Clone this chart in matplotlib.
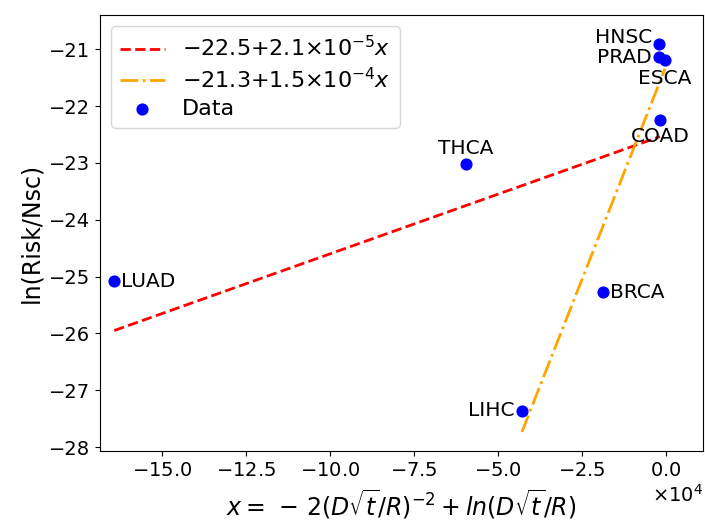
import numpy as np
import matplotlib
matplotlib.use('Agg')
import matplotlib.pyplot as plt
from matplotlib.ticker import MultipleLocator, ScalarFormatter

# Data (x in units, axis shows x10^4)
labels = ['HNSC', 'PRAD', 'ESCA', 'COAD', 'THCA', 'LUAD', 'BRCA', 'LIHC']
x_vals = [-0.21e4, -0.21e4, -0.03e4, -0.18e4, -5.95e4, -16.43e4, -1.88e4, -4.29e4]
y_vals = [-20.91, -21.14, -21.19, -22.25, -23.02, -25.08, -25.28, -27.36]

# Fitted lines: intercept, slope, x span
red_fit = (-22.5, 2.1e-5)
red_span = [-16.43e4, -0.18e4]
orange_fit = (-21.3, 1.5e-4)
orange_span = [-4.29e4, -0.03e4]

# label offsets (points) and alignment
label_pos = {
    'HNSC': ((-5, 5), 'right', 'center'),
    'PRAD': ((-5, 0), 'right', 'center'),
    'ESCA': ((-19.5, -13), 'left', 'center'),
    'COAD': ((-21, -11.5), 'left', 'center'),
    'THCA': ((0, 11.5), 'center', 'center'),
    'LUAD': ((5, 0), 'left', 'center'),
    'BRCA': ((5, 0), 'left', 'center'),
    'LIHC': ((-5, 0), 'right', 'center'),
}

fig = plt.figure(figsize=(7.05, 5.22), dpi=100)
ax = fig.add_axes([0.142, 0.136, 0.855, 0.835])

xr = np.linspace(red_span[0], red_span[1], 50)
ax.plot(xr, red_fit[0] + red_fit[1] * xr, 'r--', lw=2,
        label=r'$-22.5{+}2.1{\times}10^{-5}x$')
xo = np.linspace(orange_span[0], orange_span[1], 50)
ax.plot(xo, orange_fit[0] + orange_fit[1] * xo, color='orange', ls='-.', lw=2,
        label=r'$-21.3{+}1.5{\times}10^{-4}x$')
ax.scatter(x_vals, y_vals, color='blue', s=60, zorder=3, label='Data')

for lab, xv, yv in zip(labels, x_vals, y_vals):
    off, ha, va = label_pos[lab]
    ax.annotate(lab, (xv, yv), xytext=off, textcoords='offset points',
                ha=ha, va=va, fontsize=14.5)

ax.set_xlim(-16.85e4, 1.1e4)
ax.set_ylim(-28.07, -20.40)
ax.xaxis.set_major_locator(MultipleLocator(2.5e4))
fmt = ScalarFormatter(useMathText=True)
fmt.set_powerlimits((4, 4))
ax.xaxis.set_major_formatter(fmt)
ax.tick_params(labelsize=14)
ax.xaxis.get_offset_text().set_fontsize(14)
ax.set_xlabel(r'$x =\,-\,2(D\sqrt{t}/R)^{-2} + ln(D\sqrt{t}/R)$', fontsize=17,
              labelpad=6)
ax.set_ylabel('ln(Risk/Nsc)', fontsize=17)
ax.legend(loc='upper left', fontsize=16, labelspacing=0.3)

fig.savefig('out.png', dpi=100)
